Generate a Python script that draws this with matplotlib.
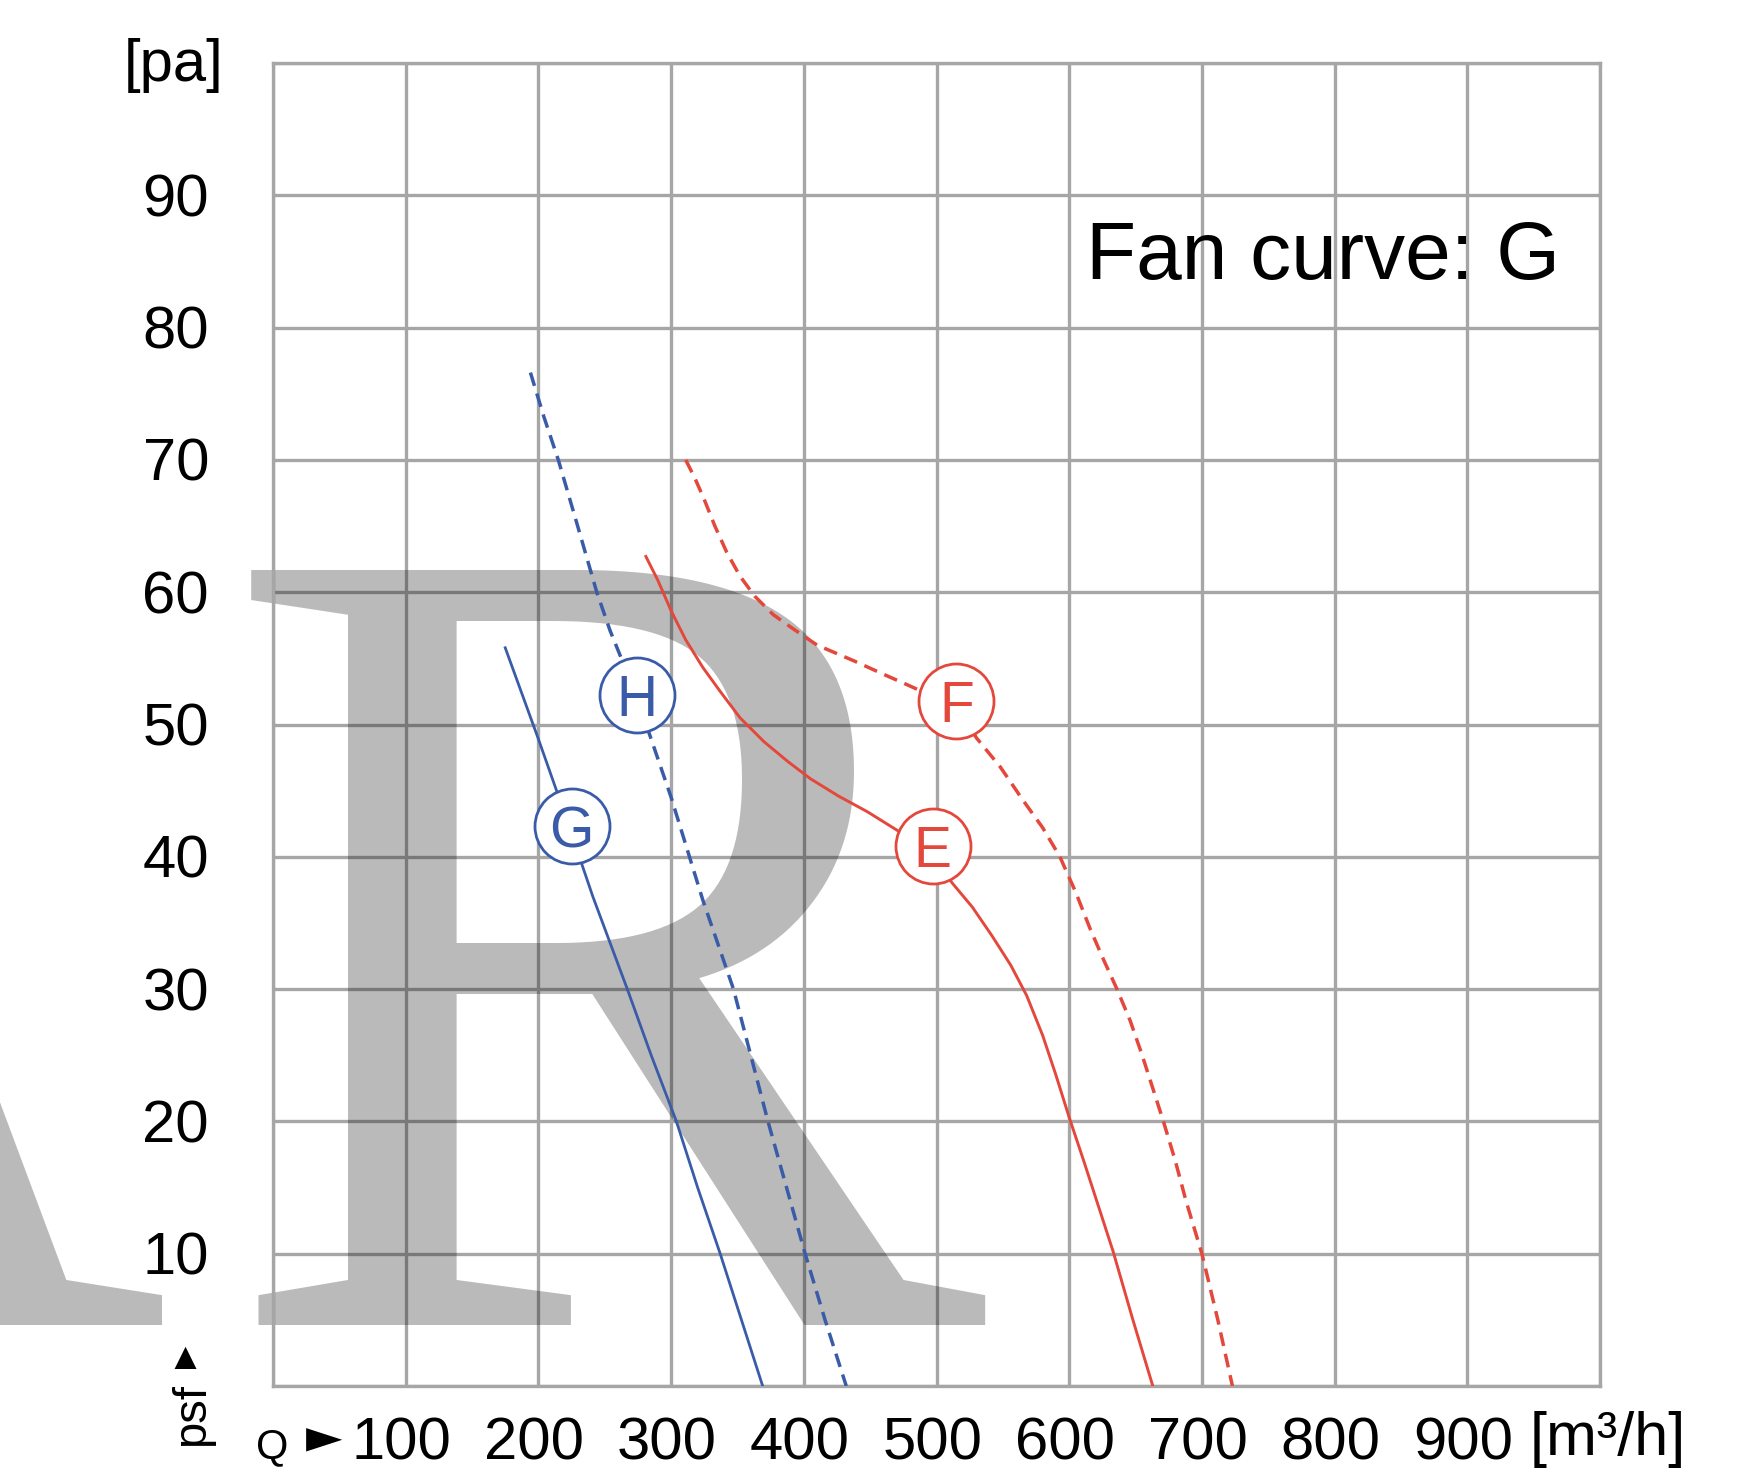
import matplotlib.pyplot as plt
from matplotlib.transforms import offset_copy

# axis ticks
q_ticks = [100, 200, 300, 400, 500, 600, 700, 800, 900]
p_ticks = [10, 20, 30, 40, 50, 60, 70, 80, 90]

# curve G (solid blue)
g_q = [175, 200, 220, 241, 267, 285, 304, 320, 337, 353, 369]
g_p = [55.8, 48.9, 43.2, 37.0, 30.0, 25.0, 20.0, 15.0, 10.0, 5.0, 0.0]

# curve H (dashed blue)
h_q = [194, 204, 215, 229, 244, 254, 273, 300, 324, 347, 360, 373, 387, 401, 416, 432]
h_p = [76.6, 73.3, 70.0, 65.2, 60.0, 57.1, 52.4, 44.5, 36.7, 30.0, 25.0, 20.0, 15.0, 10.0, 5.0, 0.0]

# curve E (solid red)
e_q = [281, 290, 300, 311, 324, 337, 352, 370, 388, 405, 426, 448, 472, 495, 512, 527, 542,
       556, 568, 580, 590, 600, 611, 622, 633, 648, 663]
e_p = [62.7, 60.9, 58.6, 56.4, 54.3, 52.5, 50.5, 48.7, 47.2, 45.9, 44.6, 43.4, 41.9, 40.2, 38.0,
       36.2, 34.0, 31.8, 29.5, 26.5, 23.5, 20.3, 17.0, 13.6, 10.2, 5.0, 0.0]

# curve F (dashed red)
f_q = [311, 318, 325, 333, 342, 352, 363, 377, 391, 410, 438, 460, 478, 500, 515, 530, 548, 565,
       580, 593, 605, 616, 626, 636, 646, 655, 663, 671, 680, 688, 700, 712, 723]
f_p = [70.0, 68.6, 67.0, 65.0, 63.0, 61.2, 59.7, 58.3, 57.3, 56.0, 54.8, 53.8, 53.0, 52.0, 51.5,
       49.0, 46.8, 44.3, 42.2, 40.0, 37.3, 34.5, 32.2, 30.0, 27.6, 25.0, 22.5, 20.0, 17.0, 14.0,
       10.0, 5.0, 0.0]

# circled curve letters
tag_names = ['G', 'H', 'E', 'F']
tag_q = [225, 274, 497, 515]
tag_p = [42.3, 52.2, 40.8, 51.8]

blue = '#3a5ca8'
red = '#e4473b'
grid_col = '#a6a6a6'
sans = ['Liberation Sans', 'DejaVu Sans']

W, H = 1760, 1472
fig = plt.figure(figsize=(W / 100, H / 100), dpi=100)
fig.patch.set_facecolor('white')

# plot frame in pixel terms
L, R, T, B = 273, 1600, 63, 1386
ax = fig.add_axes([L / W, 1 - B / H, (R - L) / W, (B - T) / H])
ax.set_xlim(0, 1000)
ax.set_ylim(0, 100)
ax.set_xticks(range(0, 1001, 100))
ax.set_yticks(range(0, 101, 10))
ax.grid(True, color=grid_col, lw=2.4)
ax.set_axisbelow(True)
ax.tick_params(length=0, labelbottom=False, labelleft=False)
for s in ax.spines.values():
    s.set_color(grid_col)
    s.set_linewidth(2.4)

# watermark letters
ax.text(218 / W, 1 - 1325 / H, 'R', transform=fig.transFigure, fontsize=830,
        family='Liberation Serif', color='black', alpha=0.27, ha='left',
        va='baseline', clip_on=False, zorder=1)
ax.text(170 / W, 1 - 1325 / H, 'A', transform=fig.transFigure, fontsize=830,
        family='Liberation Serif', color='black', alpha=0.27, ha='right',
        va='baseline', clip_on=False, zorder=1)

# curves
ax.plot(g_q, g_p, color=blue, lw=2.0, zorder=3)
ax.plot(h_q, h_p, color=blue, lw=2.5, dashes=(4.0, 2.3), zorder=3)
ax.plot(e_q, e_p, color=red, lw=2.1, zorder=3)
ax.plot(f_q, f_p, color=red, lw=2.5, dashes=(4.0, 2.3), zorder=3)

# circled letters
shift = offset_copy(ax.transData, fig=fig, x=0, y=-15, units='points')
for name, q, p in zip(tag_names, tag_q, tag_p):
    c = blue if name in ('G', 'H') else red
    ax.plot(q, p, 'o', ms=54, mfc='white', mec=c, mew=2.0, zorder=4)
    ax.text(q, p, name, transform=shift, ha='center', va='baseline',
            fontsize=41, color=c, family=sans, zorder=5)

# tick labels
xlab_tr = offset_copy(ax.get_xaxis_transform(), fig=fig, x=-3, y=-74 * 0.72, units='points')
for q in q_ticks:
    ax.text(q, 0, str(q), transform=xlab_tr, ha='center', va='baseline',
            fontsize=43, family=sans, clip_on=False)
ylab_tr = offset_copy(ax.get_yaxis_transform(), fig=fig, x=-64 * 0.72, y=-21 * 0.72, units='points')
for p in p_ticks:
    ax.text(0, p, str(p), transform=ylab_tr, ha='right', va='baseline',
            fontsize=43, family=sans, clip_on=False)

# unit labels
fig.text(224 / W, 1 - 81 / H, '[pa]', ha='right', va='baseline', fontsize=43, family=sans)
fig.text(1530 / W, 1 - 1455 / H, '[m³/h]', ha='left', va='baseline', fontsize=44, family=sans)
fig.text(256 / W, 1 - 1458 / H, 'Q', ha='left', va='baseline', fontsize=30, family=sans)
fig.text(324 / W, 1 - 1440 / H, '►', ha='center', va='center', fontsize=34,
         family=['DejaVu Sans'])
fig.text(192 / W, 1 - 1414 / H, 'psf', rotation=90, ha='center', va='center',
         fontsize=34, family=sans)
fig.text(185 / W, 1 - 1359 / H, '▲', ha='center', va='center', fontsize=27, family=sans)

ax.text(613, 83.7, 'Fan curve: G', ha='left', va='baseline', fontsize=59,
        family=sans, zorder=5)

fig.savefig('out.png', dpi=100, facecolor='white')
